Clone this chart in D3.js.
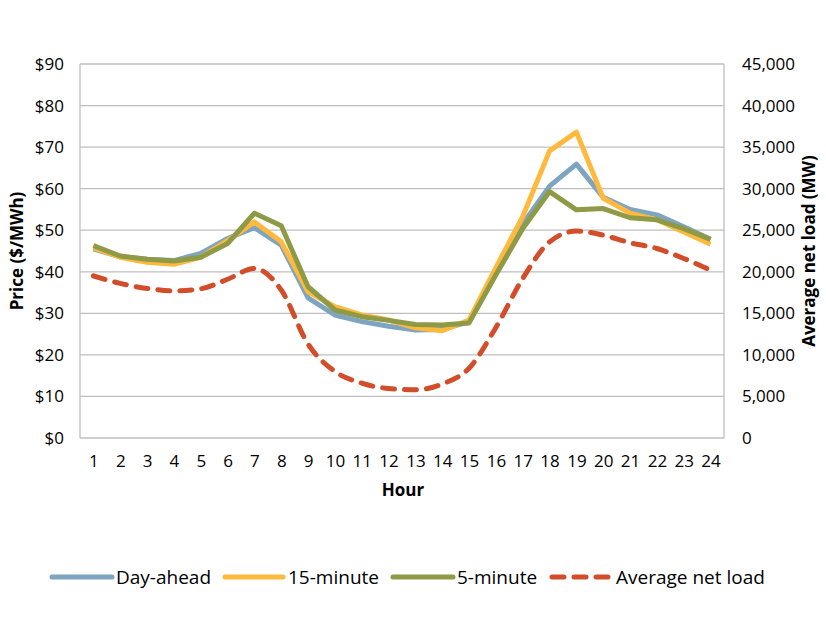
<!DOCTYPE html>
<html><head><meta charset="utf-8">
<script src="https://cdn.jsdelivr.net/npm/d3@7"></script>
<style>body{margin:0;background:#fff}text{font-family:"Open Sans","Liberation Sans",sans-serif;fill:#000}</style>
</head><body>
<svg id="c" width="826" height="620"></svg>
<script>
const hours = d3.range(1,25).map(String);
const dayAhead = [45.5,43.6,43.0,42.7,44.4,48.0,50.6,46.4,33.7,29.6,28.0,26.9,26.0,26.1,28.0,40.0,51.5,60.6,65.9,57.9,55.0,53.7,50.8,47.8];
const fifteenMin = [45.8,43.5,42.3,41.8,43.5,47.5,52.0,47.2,35.2,31.6,29.6,28.4,26.5,25.8,28.4,41.0,53.3,69.1,73.6,57.7,54.1,52.5,49.6,46.6];
const fiveMin = [46.3,43.8,43.0,42.6,43.5,46.8,54.1,51.1,36.4,30.8,29.2,28.3,27.3,27.2,27.7,39.3,50.4,59.3,54.9,55.2,53.0,52.5,50.4,47.8];
const netLoad = [19500,18600,18000,17700,17950,19100,20400,17800,11300,8000,6600,5950,5800,6500,8400,13300,19200,23600,24900,24400,23500,22800,21600,20200];
const priceTicks = [0,10,20,30,40,50,60,70,80,90];
const loadTicks = [0,5000,10000,15000,20000,25000,30000,35000,40000,45000];
const seriesNames = ["Day-ahead","15-minute","5-minute","Average net load"];
const colors = ["#7DA4C1","#FFB93C","#8F9A47","#D24E2B"];

const svg = d3.select("#c");
const L=80,R=724,T=64,B=438;
const x = d3.scalePoint().domain(hours).range([L,R]).padding(0.5);
const yP = d3.scaleLinear().domain([0,90]).range([B,T]);
const yL = d3.scaleLinear().domain([0,45000]).range([B,T]);

// gridlines
svg.append("g").selectAll("line").data(priceTicks).join("line")
  .attr("x1",L).attr("x2",R).attr("y1",d=>yP(d)).attr("y2",d=>yP(d))
  .attr("stroke","#BFBFBF").attr("stroke-width",1.3);
svg.append("line").attr("x1",L).attr("x2",L).attr("y1",T).attr("y2",B).attr("stroke","#BFBFBF").attr("stroke-width",1.3);
svg.append("line").attr("x1",R).attr("x2",R).attr("y1",T).attr("y2",B).attr("stroke","#BFBFBF").attr("stroke-width",1.3);

// axes
const fs = 17;
const la = svg.append("g").attr("transform",`translate(${L-6},0)`)
  .call(d3.axisLeft(yP).tickValues(priceTicks).tickFormat(d=>"$"+d).tickSize(0).tickPadding(10));
const ra = svg.append("g").attr("transform",`translate(${R+6},0)`)
  .call(d3.axisRight(yL).tickValues(loadTicks).tickFormat(d3.format(",")).tickSize(0).tickPadding(12));
const ba = svg.append("g").attr("transform",`translate(0,${B+14})`)
  .call(d3.axisBottom(x).tickSize(0).tickPadding(3));
[la,ra,ba].forEach(g=>{g.select(".domain").remove();g.selectAll("text").attr("font-size",fs).attr("font-family",'"Open Sans",sans-serif').attr("fill","#000");});

// titles
svg.append("text").attr("transform",`translate(23,251) rotate(-90)`).attr("text-anchor","middle")
  .attr("font-size",17).attr("font-weight","bold").text("Price ($/MWh)");
svg.append("text").attr("transform",`translate(815,251) rotate(-90)`).attr("text-anchor","middle")
  .attr("font-size",17).attr("font-weight","bold").text("Average net load (MW)");
svg.append("text").attr("x",403).attr("y",496).attr("text-anchor","middle")
  .attr("font-size",17).attr("font-weight","bold").text("Hour");

// lines
const priceSeries = [dayAhead,fifteenMin,fiveMin];
priceSeries.forEach((s,i)=>{
  svg.append("path").datum(s)
    .attr("d",d3.line().x((d,j)=>x(hours[j])).y(d=>yP(d)))
    .attr("fill","none").attr("stroke",colors[i]).attr("stroke-width",5).attr("stroke-linejoin","round");
});
svg.append("path").datum(netLoad)
  .attr("d",d3.line().x((d,j)=>x(hours[j])).y(d=>yL(d)).curve(d3.curveMonotoneX))
  .attr("fill","none").attr("stroke",colors[3]).attr("stroke-width",5)
  .attr("stroke-dasharray","12,10").attr("stroke-linecap","round");

// legend
const leg = [{x:52,w:60,tx:116},{x:225,w:58,tx:288},{x:393,w:60,tx:457},{x:552,w:58,tx:616}];
leg.forEach((o,i)=>{
  const ln = svg.append("line").attr("x1",o.x).attr("x2",o.x+o.w).attr("y1",577).attr("y2",577)
    .attr("stroke",colors[i]).attr("stroke-width",5).attr("stroke-linecap","round");
  if(i===3) ln.attr("stroke-dasharray","12,10");
  svg.append("text").attr("x",o.tx).attr("y",584).attr("font-size",19).text(seriesNames[i]);
});
</script>
</body></html>
